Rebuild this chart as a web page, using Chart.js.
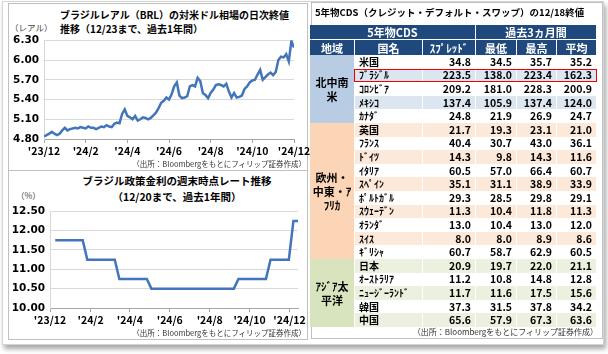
<!DOCTYPE html>
<html>
<head>
<meta charset="utf-8">
<script src="https://cdn.jsdelivr.net/npm/chart.js@4.4.1/dist/chart.umd.min.js"></script>
<style>
body{margin:0;width:608px;height:354px;background:#fff;font-family:"Noto Sans CJK JP",sans-serif;overflow:hidden;position:relative}
.frame{position:absolute;left:2px;top:1px;width:600px;height:342px;border:1px solid #d4d4d4;box-shadow:2px 4px 5px rgba(0,0,0,.35);background:#fff}
.box{position:absolute;border:1px solid #c0c0c0;background:#fff}
.ttl{position:absolute;font-weight:bold;font-size:10px;color:#000;white-space:nowrap;line-height:15px}
.unit{position:absolute;font-size:8.5px;color:#444;white-space:nowrap}
.src{position:absolute;font-size:7.5px;color:#333;white-space:nowrap;line-height:10px}
canvas{position:absolute}
.cell{position:absolute;box-sizing:border-box;border-right:1px solid #fff;display:flex;align-items:center;font-weight:bold;font-size:10.5px;white-space:nowrap;overflow:hidden;line-height:12px}
.hd{background:#1f497d;color:#fff;justify-content:center;font-size:11px}
.reg{justify-content:center;text-align:center;white-space:pre-line;line-height:14px;font-size:11px}
.name{padding-left:4px;font-size:10px}
.num{justify-content:flex-end;padding-right:4px}
</style>
</head>
<body>
<div class="frame"></div>

<!-- left top: BRL rate -->
<div class="box" style="left:8px;top:3px;width:298px;height:167px"></div>
<div class="ttl" style="left:60px;top:7px">ブラジルレアル（BRL）の対米ドル相場の日次終値</div>
<div class="ttl" style="left:60px;top:21px">推移（12/23まで、過去1年間）</div>
<div class="unit" style="left:10px;top:21px">（レアル）</div>
<canvas id="fxChart" width="310" height="131" style="left:8px;top:29px"></canvas>
<div class="src" style="right:302px;top:159px">（出所：Bloombergをもとにフィリップ証券作成）</div>

<!-- left bottom: policy rate -->
<div class="box" style="left:8px;top:170px;width:298px;height:168px"></div>
<div class="ttl" style="left:0;width:354px;text-align:center;top:173px;font-size:10.5px">ブラジル政策金利の週末時点レート推移</div>
<div class="ttl" style="left:0;width:354px;text-align:center;top:189px;font-size:10.5px">（12/20まで、過去1年間）</div>
<div class="unit" style="left:16px;top:189px">（%）</div>
<canvas id="rateChart" width="310" height="131" style="left:8px;top:200px"></canvas>
<div class="src" style="right:302px;top:328px">（出所：Bloombergをもとにフィリップ証券作成）</div>

<!-- right: CDS table -->
<div class="box" style="left:311px;top:2px;width:290px;height:335px"></div>
<div class="ttl" style="left:315px;top:5px;font-size:9.5px">5年物CDS（クレジット・デフォルト・スワップ）の12/18終値</div>
<div id="cds"></div>
<div class="src" style="right:10px;top:327px;font-size:8px">（出所：Bloombergをもとにフィリップ証券作成）</div>

<script>
// USD/BRL daily close, 12/2023 - 12/23/2024 (~2 points per week)
const fxValues = [
  4.84, 4.86, 4.88, 4.91, 4.88, 4.86, 4.88, 4.93, 4.97, 4.93,
  4.95, 4.96, 4.97, 4.96, 4.98, 4.97, 4.96, 4.99, 4.97, 4.97,
  4.95, 4.97, 4.99, 4.98, 5.01, 4.99, 4.98, 5.03, 5.05, 5.04,
  5.18, 5.25, 5.15, 5.13, 5.10, 5.15, 5.08, 5.10, 5.13, 5.12,
  5.10, 5.12, 5.16, 5.20, 5.27, 5.35, 5.38, 5.43, 5.40, 5.48,
  5.60, 5.66, 5.46, 5.42, 5.43, 5.45, 5.60, 5.62, 5.60, 5.73,
  5.68, 5.50, 5.47, 5.42, 5.50, 5.55, 5.62, 5.63, 5.62, 5.60,
  5.64, 5.52, 5.43, 5.50, 5.43, 5.44, 5.46, 5.56, 5.60, 5.66,
  5.69, 5.70, 5.78, 5.85, 5.70, 5.74, 5.78, 5.81, 5.77, 5.82,
  6.00, 6.05, 6.04, 6.09, 5.98, 6.29, 6.19
]
const fxTickLabels = ["'23/12", "'24/2", "'24/4", "'24/6", "'24/8", "'24/10", "'24/12"]
const fxYTicks = [4.80, 5.10, 5.40, 5.70, 6.00, 6.30]

// Selic weekly (Fridays from 2023-12-15 to 2024-12-20)
const rateStart = '2023-12-15'
const rateValues = [
  11.75, 11.75, 11.75, 11.75, 11.75, 11.75, 11.75,
  11.25, 11.25, 11.25, 11.25, 11.25, 11.25, 11.25,
  10.75, 10.75, 10.75, 10.75, 10.75, 10.75, 10.75,
  10.50, 10.50, 10.50, 10.50, 10.50, 10.50, 10.50, 10.50, 10.50, 10.50,
  10.50, 10.50, 10.50, 10.50, 10.50, 10.50, 10.50, 10.50, 10.50,
  10.75, 10.75, 10.75, 10.75, 10.75, 10.75, 10.75,
  11.25, 11.25, 11.25, 11.25, 11.25,
  12.25, 12.25
]
// date axis ticks every 2 months from the axis start
const rateTickDates = ['2023-12-07', '2024-02-07', '2024-04-07', '2024-06-07', '2024-08-07', '2024-10-07', '2024-12-07']
const rateTickLabels = ["'23/12", "'24/2", "'24/4", "'24/6", "'24/8", "'24/10", "'24/12"]
const rateYTicks = [10.00, 10.50, 11.00, 11.50, 12.00, 12.50]

// CDS table
const cdsRegions = ['北中南\n米', '欧州・\n中東・ｱ\nﾌﾘｶ', 'ｱｼﾞｱ太\n平洋']
const cdsRegionRows = [5, 10, 5]
const cdsRegionColors = ['#b8cce4', '#fbd5b5', '#d7e4bd']
const cdsRowTints = ['#dce6f1', '#fde9d9', '#ebf1de']
const cdsCountries = ['米国', 'ﾌﾞﾗｼﾞﾙ', 'ｺﾛﾝﾋﾞｱ', 'ﾒｷｼｺ', 'ｶﾅﾀﾞ',
  '英国', 'ﾌﾗﾝｽ', 'ﾄﾞｲﾂ', 'ｲﾀﾘｱ', 'ｽﾍﾟｲﾝ', 'ﾎﾟﾙﾄｶﾞﾙ', 'ｽｳｪｰﾃﾞﾝ', 'ｵﾗﾝﾀﾞ', 'ｽｲｽ', 'ｷﾞﾘｼｬ',
  '日本', 'ｵｰｽﾄﾗﾘｱ', 'ﾆｭｰｼﾞｰﾗﾝﾄﾞ', '韓国', '中国']
const cdsSpread = [34.8, 223.5, 209.2, 137.4, 24.8, 21.7, 40.4, 14.3, 60.5, 35.1, 29.3, 11.3, 13.0, 8.0, 60.7, 20.9, 11.2, 11.7, 37.3, 65.6]
const cdsLow = [34.5, 138.0, 181.0, 105.9, 21.9, 19.3, 30.7, 9.8, 57.0, 31.1, 28.5, 10.4, 10.4, 8.0, 58.7, 19.7, 10.8, 11.6, 31.5, 57.9]
const cdsHigh = [35.7, 223.4, 228.3, 137.4, 26.9, 23.1, 43.0, 14.3, 66.4, 38.9, 29.8, 11.8, 13.0, 8.9, 62.9, 22.0, 14.8, 17.5, 37.8, 67.3]
const cdsAvg = [35.2, 162.3, 200.9, 124.0, 24.7, 21.0, 36.1, 11.6, 60.7, 33.9, 29.1, 11.3, 12.0, 8.6, 60.5, 21.1, 12.8, 15.6, 34.2, 63.6]
const cdsHeaderTop = ['5年物CDS', '過去3ヵ月間']
const cdsHeader = ['地域', '国名', 'ｽﾌﾟﾚｯﾄﾞ', '最低', '最高', '平均']
const cdsHighlight = 1

Chart.defaults.font.family = '"Noto Sans CJK JP", sans-serif'
Chart.defaults.font.weight = 'bold'
Chart.defaults.color = '#000'

const lineBlue = '#4275bb'

function dayOffset(d){
  return Math.round((new Date(d) - new Date(rateTickDates[0])) / 86400000)
}

function makeOptions(o){
  return {
    responsive: false,
    animation: false,
    layout: {padding: {top: 4, right: o.padRight, left: 0, bottom: 0}},
    plugins: {legend: {display: false}, tooltip: {enabled: false}},
    scales: {
      x: {
        type: 'linear',
        min: o.xMin, max: o.xMax,
        afterBuildTicks: s => { s.ticks = o.xTicks.map(v => ({value: v})) },
        afterFit: s => { s.height = o.xHeight },
        ticks: {autoSkip: false, maxRotation: 0, padding: 2, font: {size: 10.5},
          callback: (v, i) => o.xLabels[i]},
        grid: {drawOnChartArea: false, drawTicks: true, tickLength: 4, color: '#a6a6a6'},
        border: {color: '#a6a6a6'}
      },
      y: {
        min: o.yTicks[0], max: o.yTicks[o.yTicks.length - 1],
        afterBuildTicks: s => { s.ticks = o.yTicks.map(v => ({value: v})) },
        afterFit: s => { s.width = o.yWidth },
        ticks: {padding: 5, font: {size: 10.5, family: '"DejaVu Sans", sans-serif'}, callback: v => v.toFixed(2)},
        grid: {color: '#d9d9d9', drawTicks: false},
        border: {color: '#d9d9d9'}
      }
    }
  }
}

new Chart(document.getElementById('fxChart'), {
  type: 'line',
  data: {datasets: [{
    data: fxValues.map((v, i) => ({x: i, y: v})),
    borderColor: lineBlue, borderWidth: 2.5, pointRadius: 0, tension: 0
  }]},
  options: makeOptions({
    padRight: 24, xHeight: 21, yWidth: 36,
    xMin: 0, xMax: fxValues.length - 1,
    xTicks: fxTickLabels.map((l, i) => i * (fxValues.length - 1) / (fxTickLabels.length - 1)),
    xLabels: fxTickLabels, yTicks: fxYTicks
  })
})

const rateStartOff = dayOffset(rateStart)
new Chart(document.getElementById('rateChart'), {
  type: 'line',
  data: {datasets: [{
    data: rateValues.map((v, i) => ({x: rateStartOff + i * 7, y: v})),
    borderColor: lineBlue, borderWidth: 2.5, pointRadius: 0, tension: 0
  }]},
  options: makeOptions({
    padRight: 20, xHeight: 23, yWidth: 42,
    xMin: 0, xMax: rateStartOff + (rateValues.length - 1) * 7,
    xTicks: rateTickDates.map(dayOffset),
    xLabels: rateTickLabels, yTicks: rateYTicks
  })
})

// build the table out of positioned cells
const colX = [310, 355, 423, 476, 517, 557, 597]
const h1Top = 25, h2Top = 39, rowTop = 55, rowH = 13.6
const holder = document.getElementById('cds')
function cell(x0, x1, y, h, cls, bg, text){
  const d = document.createElement('div')
  d.className = 'cell ' + cls
  d.style.cssText = `left:${x0}px;top:${y}px;width:${x1 - x0}px;height:${h}px;` + (bg ? `background:${bg}` : '')
  d.textContent = text
  holder.appendChild(d)
}
cell(colX[0], colX[3], h1Top, 14, 'hd', null, cdsHeaderTop[0])
cell(colX[3], colX[6], h1Top, 14, 'hd', null, cdsHeaderTop[1])
cdsHeader.forEach((t, c) => cell(colX[c], colX[c + 1], h2Top + 1, 15, 'hd', null, t))
let row = 0
cdsRegions.forEach((reg, r) => {
  cell(colX[0], colX[1], rowTop + row * rowH, cdsRegionRows[r] * rowH, 'reg', cdsRegionColors[r], reg)
  for (let k = 0; k < cdsRegionRows[r]; k++) {
    const bg = row % 2 == 1 ? cdsRowTints[r] : '#fff'
    const y = rowTop + row * rowH
    cell(colX[1], colX[2], y, rowH, 'name', bg, cdsCountries[row])
    cell(colX[2], colX[3], y, rowH, 'num', bg, cdsSpread[row].toFixed(1))
    cell(colX[3], colX[4], y, rowH, 'num', bg, cdsLow[row].toFixed(1))
    cell(colX[4], colX[5], y, rowH, 'num', bg, cdsHigh[row].toFixed(1))
    cell(colX[5], colX[6], y, rowH, 'num', bg, cdsAvg[row].toFixed(1))
    row++
  }
})

// red frame round the highlighted row
const redBox = document.createElement('div')
redBox.style.cssText = `position:absolute;left:${colX[1] - 1}px;top:${rowTop + cdsHighlight * rowH}px;width:${colX[6] - colX[1] + 1}px;height:${rowH}px;border:1.5px solid #e00;box-sizing:border-box`
holder.appendChild(redBox)
</script>
</body>
</html>
